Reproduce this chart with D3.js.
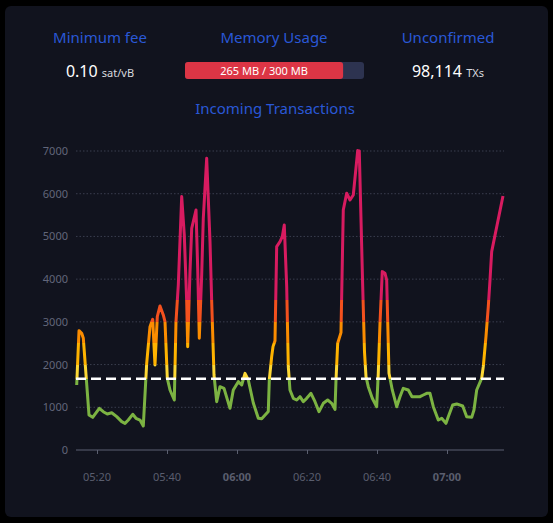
<!DOCTYPE html>
<html>
<head>
<meta charset="utf-8">
<style>
  body { margin: 0; background: #000; }
  svg { display: block; font-family: "Noto Sans", "Open Sans", sans-serif; }
  .title { fill: #2a58d6; font-size: 15px; text-anchor: middle; }
  .ylab { fill: #62667a; font-size: 11px; text-anchor: end; }
  .xlab { fill: #5a5e6e; font-size: 11px; text-anchor: middle; }
</style>
<script src="https://d3js.org/d3.v7.min.js"></script>
</head>
<body>
<svg width="553" height="523"></svg>
<script>
// minutes after 05:00 and vbytes/s
var minutes = [14.2, 14.86, 15.63, 16.09, 17.71, 18.77, 20.66, 21.8, 22.94, 24.2, 25.63, 27.06, 28, 28.94,
  30.2, 31.14, 32.29, 33.23, 34.2, 35.14, 35.91, 36.57, 37.23, 38, 38.94, 39.43, 40.09, 40.86, 42.09,
  42.57, 43.23, 44.2, 44.94, 45.63, 45.91, 46.57, 47.06, 48.29, 48.77, 49.23, 49.91, 50.37, 51.34,
  52.29, 52.77, 53.43, 54.2, 55.14, 56.29, 58, 58.94, 60.37, 61.34, 62.29, 63.23, 64.66, 66.09, 67.06,
  68.49, 68.94, 69.23, 69.91, 70.29, 70.86, 71.34, 72.29, 72.94, 73.51, 74.2, 74.66, 75.14, 76.09,
  77.06, 78, 78.94, 79.91, 81.14, 82.29, 83.43, 84.66, 85.91, 87.06, 88, 88.29, 88.77, 89.71, 90.37,
  91.34, 92.29, 93.23, 94.49, 94.94, 95.86, 96.43, 96.86, 97.51, 98.66, 99.91, 100.37, 100.86, 101.51,
  102.29, 102.77, 103.43, 104.37, 105.63, 106.57, 107.51, 108.94, 110, 111.34, 112.29, 113.23, 114.2,
  115.14, 116.09, 117.51, 118.49, 119.71, 120.37, 121.63, 122.77, 124.49, 125.63, 127.06, 127.71,
  128.49, 129.91, 130.37, 131.14, 131.8, 132.29, 132.77, 136];
var vsize = [1522, 2793, 2732, 2615, 820, 765, 976, 897, 843, 873, 780, 663, 624, 702,
  836, 742, 702, 562, 2030, 2887, 3059, 1990, 3122, 3372, 3161, 3005, 1678, 1405, 1170,
  3005, 3863, 5932, 5035, 3473, 2420, 4176, 5190, 5619, 4254, 2615, 4098, 5424, 6830,
  4878, 3473, 1756, 1131, 1483, 1444, 976, 1405, 1600, 1522, 1795, 1639, 1100, 742, 730,
  859, 900, 1639, 2185, 2420, 2560, 4761, 4878, 4995, 5268, 3824, 1951, 1405, 1210,
  1170, 1248, 1131, 1210, 1327, 1131, 897, 1093, 1170, 1093, 952, 1639, 2498, 2747, 5619,
  6010, 5853, 5970, 7010, 7000, 4000, 2300, 1717, 1483, 1210, 1014, 1795, 2966, 4176,
  4137, 3980, 1795, 1405, 1014, 1248, 1444, 1405, 1248, 1248, 1248, 1288, 1327,
  1327, 1014, 702, 742, 624, 780, 1054, 1078, 1030, 780, 765, 937,
  1405, 1678, 1951, 2653, 3356, 3980, 4644, 5947];
var yTicks = [0, 1000, 2000, 3000, 4000, 5000, 6000, 7000];
var xTicks = ["05:20", "05:40", "06:00", "06:20", "06:40", "07:00"];
var threshold = 1667;
var colorSteps = [[0, "#7cb342"], [1667, "#fdd835"], [2000, "#ffb300"], [2500, "#fb8c00"], [3000, "#f4511e"], [3500, "#d81b60"]];

var svg = d3.select("svg");
var parse = d3.timeParse("%H:%M");
var base = parse("05:00");
function toDate(m) { return new Date(base.getTime() + m * 60000); }

svg.append("rect").attr("x", 5).attr("y", 6).attr("width", 543).attr("height", 511)
  .attr("rx", 6).attr("fill", "#11131e");

// header
svg.append("text").attr("class", "title").attr("x", 100).attr("y", 43).text("Minimum fee");
svg.append("text").attr("class", "title").attr("x", 274).attr("y", 43).text("Memory Usage");
svg.append("text").attr("class", "title").attr("x", 448).attr("y", 43).text("Unconfirmed");

var fee = svg.append("text").attr("x", 100).attr("y", 77).attr("text-anchor", "middle").attr("fill", "#fff");
fee.append("tspan").attr("font-size", "16px").text("0.10 ");
fee.append("tspan").attr("font-size", "11px").attr("fill", "#d8d9de").text("sat/vB");

var mem = d3.scaleLinear().domain([0, 300]).range([0, 179]);
svg.append("rect").attr("x", 185).attr("y", 62).attr("width", mem(300)).attr("height", 17)
  .attr("rx", 3).attr("fill", "#2d3350");
svg.append("rect").attr("x", 185).attr("y", 62).attr("width", mem(265)).attr("height", 17)
  .attr("rx", 3).attr("fill", "#dc3545");
svg.append("text").attr("x", 185 + mem(265) / 2).attr("y", 75).attr("text-anchor", "middle")
  .attr("fill", "#fff").attr("font-size", "11px").text("265 MB / 300 MB");

var unc = svg.append("text").attr("x", 448).attr("y", 77).attr("text-anchor", "middle").attr("fill", "#fff");
unc.append("tspan").attr("font-size", "16px").text("98,114 ");
unc.append("tspan").attr("font-size", "11px").attr("fill", "#d8d9de").text("TXs");

svg.append("text").attr("class", "title").attr("x", 275).attr("y", 114).text("Incoming Transactions");

// chart
var x = d3.scaleTime().domain([toDate(14), toDate(136.29)]).range([76, 504]);
var y = d3.scaleLinear().domain([0, 7000]).range([450, 151]);

var g = svg.append("g");
g.selectAll(".grid").data(yTicks.slice(1)).enter().append("line")
  .attr("x1", 76).attr("x2", 504)
  .attr("y1", function(d) { return y(d); }).attr("y2", function(d) { return y(d); })
  .attr("stroke", "#3a3e4e").attr("stroke-dasharray", "1.5,2");

g.selectAll(".ylab").data(yTicks).enter().append("text")
  .attr("class", "ylab").attr("x", 68).attr("y", function(d) { return y(d) + 4; })
  .text(function(d) { return d; });

var xAxis = g.append("g").attr("transform", "translate(0,450)")
  .call(d3.axisBottom(x).tickValues(xTicks.map(function(t) { return parse(t); })).tickSize(4).tickFormat(""));
xAxis.select(".domain").attr("stroke", "#5d6172").attr("d", "M76,0H504");
xAxis.selectAll(".tick line").attr("stroke", "#5d6172");

g.selectAll(".xlab").data(xTicks).enter().append("text")
  .attr("class", "xlab").attr("x", function(d) { return x(parse(d)); }).attr("y", 481)
  .attr("font-weight", function(d) { return d.slice(3) == "00" ? "bold" : "normal"; })
  .text(function(d) { return d; });

// colour by value
var grad = svg.append("defs").append("linearGradient").attr("id", "vgrad")
  .attr("gradientUnits", "userSpaceOnUse").attr("x1", 0).attr("x2", 0)
  .attr("y1", y(0)).attr("y2", y(7000));
colorSteps.forEach(function(s, i) {
  var next = i < colorSteps.length - 1 ? colorSteps[i + 1][0] : 7000;
  grad.append("stop").attr("offset", s[0] / 7000).attr("stop-color", s[1]);
  grad.append("stop").attr("offset", next / 7000).attr("stop-color", s[1]);
});

var data = minutes.map(function(m, i) { return {t: toDate(m), v: vsize[i]}; });
g.append("path").datum(data)
  .attr("fill", "none").attr("stroke", "url(#vgrad)").attr("stroke-width", 3)
  .attr("stroke-linejoin", "round")
  .attr("d", d3.line().x(function(d) { return x(d.t); }).y(function(d) { return y(d.v); }));

g.append("line").attr("x1", 76).attr("x2", 504)
  .attr("y1", y(threshold)).attr("y2", y(threshold))
  .attr("stroke", "#fff").attr("stroke-width", 2.5).attr("stroke-dasharray", "10,5");
</script>
</body>
</html>
